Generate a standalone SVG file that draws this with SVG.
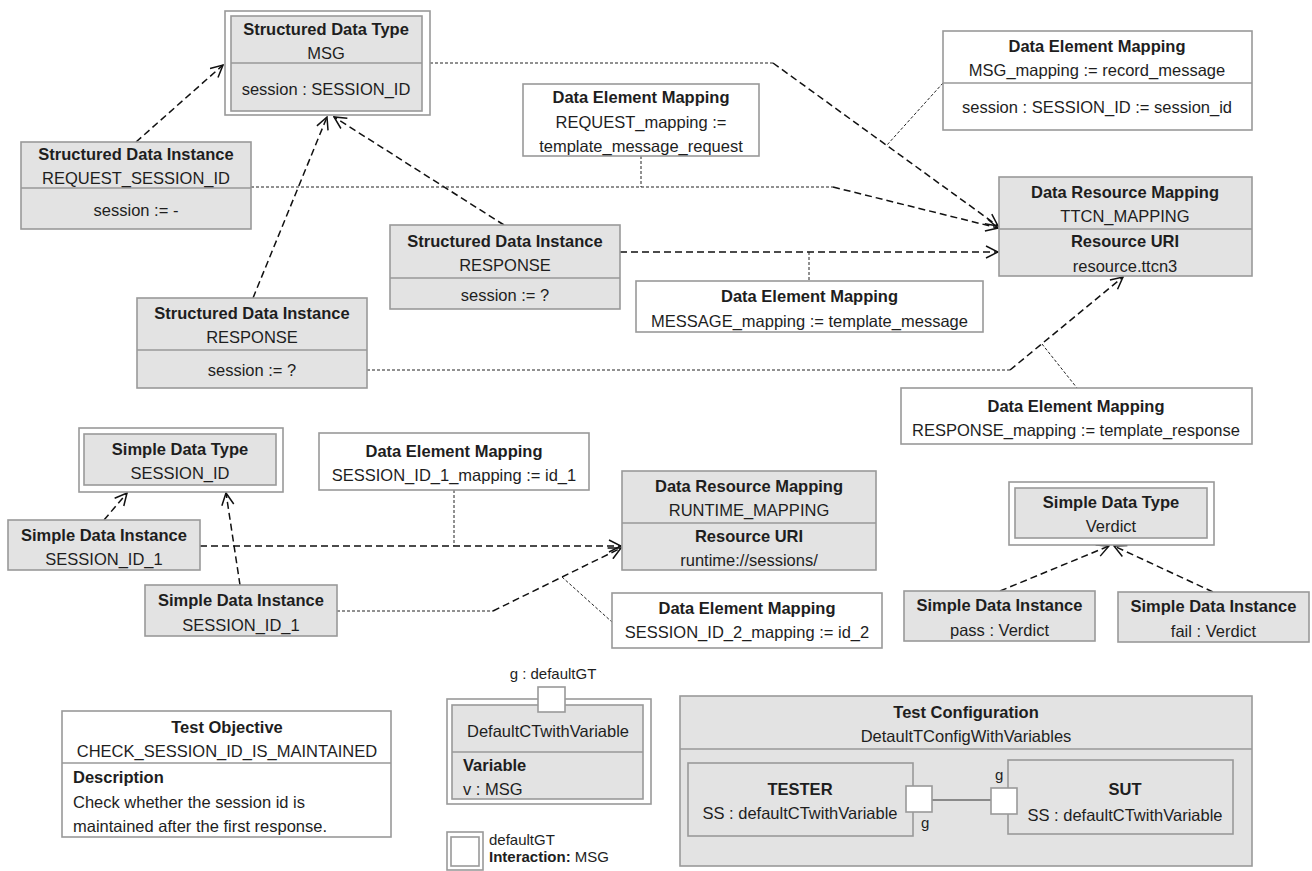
<svg xmlns="http://www.w3.org/2000/svg" width="1312" height="871" viewBox="0 0 1312 871">
<style>
.box{fill:#e3e3e3;stroke:#999;stroke-width:1.6}
.wbox{fill:#fff;stroke:#999;stroke-width:1.6}
.dv{stroke:#999;stroke-width:1.6}
text{font-family:"Liberation Sans",Arial,Helvetica,sans-serif;font-size:16.5px;fill:#1e1e1e}
.b{font-weight:bold}
.c{text-anchor:middle}
.sm{font-size:15px}
.dash{fill:none;stroke:#111;stroke-width:1.5;stroke-dasharray:7 4}
.dot{fill:none;stroke:#222;stroke-width:1;stroke-dasharray:3 2}
.solid{fill:none;stroke:#333;stroke-width:1.2}
</style>
<defs>
<marker id="arr" viewBox="0 0 14 14" refX="13" refY="7" markerWidth="14" markerHeight="14" markerUnits="userSpaceOnUse" orient="auto">
<path d="M1,1 L13,7 L1,13" fill="none" stroke="#111" stroke-width="1.5"/>
</marker>
</defs>

<g id="connectors">
<path class="dash" d="M136,142 L223,65" marker-end="url(#arr)"/>
<path class="dash" d="M253,298 L327,117" marker-end="url(#arr)"/>
<path class="dash" d="M504,225 L334,117" marker-end="url(#arr)"/>
<path class="dot" d="M430,63 L773,63"/>
<path class="dash" d="M773,63 L998,226" marker-end="url(#arr)"/>
<path class="dot" d="M251,187 L833,187"/>
<path class="dash" d="M833,187 L998,228" marker-end="url(#arr)"/>
<path class="dot" d="M641,156 L641,187"/>
<path class="dot" d="M943,83 L887,145"/>
<path class="dash" d="M620,252 L998,252" marker-end="url(#arr)"/>
<path class="dot" d="M809,252 L809,281"/>
<path class="dot" d="M367,370 L1010,370"/>
<path class="dash" d="M1010,370 L1123,277" marker-end="url(#arr)"/>
<path class="dot" d="M1042,344 L1077,388"/>
<path class="dash" d="M104,520 L127,493" marker-end="url(#arr)"/>
<path class="dash" d="M240,585 L226,493" marker-end="url(#arr)"/>
<path class="dash" d="M200,546 L621,546" marker-end="url(#arr)"/>
<path class="dot" d="M454,490 L454,546"/>
<path class="dot" d="M337,611 L493,611"/>
<path class="dash" d="M493,611 L621,548" marker-end="url(#arr)"/>
<path class="dot" d="M562,577 L612,622"/>
<path class="dash" d="M1000,591 L1109,546" marker-end="url(#arr)"/>
<path class="dash" d="M1213,592 L1114,546" marker-end="url(#arr)"/>
</g>

<g id="sdt-msg">
<rect class="wbox" x="225" y="11" width="205" height="104"/>
<rect class="box" x="231" y="16" width="191" height="95"/>
<line class="dv" x1="231" y1="63" x2="422" y2="63"/>
<text class="b c" x="326" y="35">Structured Data Type</text>
<text class="c" x="326" y="59">MSG</text>
<text class="c" x="326" y="95">session : SESSION_ID</text>
</g>

<g id="sdi-request">
<rect class="box" x="21" y="142" width="230" height="87"/>
<line class="dv" x1="21" y1="188" x2="251" y2="188"/>
<text class="b c" x="136" y="160">Structured Data Instance</text>
<text class="c" x="136" y="184">REQUEST_SESSION_ID</text>
<text class="c" x="136" y="216">session := -</text>
</g>

<g id="sdi-response-mid">
<rect class="box" x="390" y="225" width="230" height="84"/>
<line class="dv" x1="390" y1="278" x2="620" y2="278"/>
<text class="b c" x="505" y="247">Structured Data Instance</text>
<text class="c" x="505" y="271">RESPONSE</text>
<text class="c" x="505" y="301">session := ?</text>
</g>

<g id="sdi-response-low">
<rect class="box" x="137" y="298" width="230" height="90"/>
<line class="dv" x1="137" y1="350" x2="367" y2="350"/>
<text class="b c" x="252" y="319">Structured Data Instance</text>
<text class="c" x="252" y="343">RESPONSE</text>
<text class="c" x="252" y="376">session := ?</text>
</g>

<g id="dem-request">
<rect class="wbox" x="523" y="84" width="236" height="72"/>
<text class="b c" x="641" y="103">Data Element Mapping</text>
<text class="c" x="641" y="128">REQUEST_mapping :=</text>
<text class="c" x="641" y="152">template_message_request</text>
</g>

<g id="dem-msg">
<rect class="wbox" x="943" y="31" width="309" height="99"/>
<line class="dv" x1="943" y1="83" x2="1252" y2="83"/>
<text class="b c" x="1097" y="52">Data Element Mapping</text>
<text class="c" x="1097" y="76">MSG_mapping := record_message</text>
<text class="c" x="1097" y="113">session : SESSION_ID := session_id</text>
</g>

<g id="drm-ttcn">
<rect class="box" x="999" y="177" width="253" height="99"/>
<line class="dv" x1="999" y1="229" x2="1252" y2="229"/>
<text class="b c" x="1125" y="198">Data Resource Mapping</text>
<text class="c" x="1125" y="222">TTCN_MAPPING</text>
<text class="b c" x="1125" y="247">Resource URI</text>
<text class="c" x="1125" y="272">resource.ttcn3</text>
</g>

<g id="dem-message">
<rect class="wbox" x="636" y="281" width="347" height="51"/>
<text class="b c" x="809.5" y="302">Data Element Mapping</text>
<text class="c" x="809.5" y="327">MESSAGE_mapping := template_message</text>
</g>

<g id="dem-response">
<rect class="wbox" x="901" y="388" width="351" height="56"/>
<text class="b c" x="1076" y="412">Data Element Mapping</text>
<text class="c" x="1076" y="436">RESPONSE_mapping := template_response</text>
</g>

<g id="sdt-session-id">
<rect class="wbox" x="79" y="428" width="204" height="64"/>
<rect class="box" x="84" y="434" width="192" height="51"/>
<text class="b c" x="180" y="455">Simple Data Type</text>
<text class="c" x="180" y="479">SESSION_ID</text>
</g>

<g id="sdi-session-id-1a">
<rect class="box" x="8" y="520" width="192" height="50"/>
<text class="b c" x="104" y="541">Simple Data Instance</text>
<text class="c" x="104" y="565">SESSION_ID_1</text>
</g>

<g id="sdi-session-id-1b">
<rect class="box" x="145" y="585" width="192" height="51"/>
<text class="b c" x="241" y="606">Simple Data Instance</text>
<text class="c" x="241" y="631">SESSION_ID_1</text>
</g>

<g id="dem-session-id-1">
<rect class="wbox" x="319" y="433" width="270" height="57"/>
<text class="b c" x="454" y="457">Data Element Mapping</text>
<text class="c" x="454" y="481">SESSION_ID_1_mapping := id_1</text>
</g>

<g id="drm-runtime">
<rect class="box" x="622" y="471" width="254" height="99"/>
<line class="dv" x1="622" y1="523" x2="876" y2="523"/>
<text class="b c" x="749" y="492">Data Resource Mapping</text>
<text class="c" x="749" y="516">RUNTIME_MAPPING</text>
<text class="b c" x="749" y="542">Resource URI</text>
<text class="c" x="749" y="566">runtime://sessions/</text>
</g>

<g id="dem-session-id-2">
<rect class="wbox" x="612" y="593" width="270" height="55"/>
<text class="b c" x="747" y="614">Data Element Mapping</text>
<text class="c" x="747" y="638">SESSION_ID_2_mapping := id_2</text>
</g>

<g id="sdt-verdict">
<rect class="wbox" x="1009" y="482" width="205" height="63"/>
<rect class="box" x="1015" y="488" width="192" height="50"/>
<text class="b c" x="1111" y="508">Simple Data Type</text>
<text class="c" x="1111" y="532">Verdict</text>
</g>

<g id="sdi-pass">
<rect class="box" x="904" y="591" width="191" height="50"/>
<text class="b c" x="999.5" y="611">Simple Data Instance</text>
<text class="c" x="999.5" y="636">pass : Verdict</text>
</g>

<g id="sdi-fail">
<rect class="box" x="1118" y="592" width="191" height="50"/>
<text class="b c" x="1213.5" y="612">Simple Data Instance</text>
<text class="c" x="1213.5" y="637">fail : Verdict</text>
</g>

<g id="test-objective">
<rect class="wbox" x="62" y="711" width="329" height="126"/>
<line class="dv" x1="62" y1="763" x2="391" y2="763"/>
<text class="b c" x="227" y="733">Test Objective</text>
<text class="c" x="227" y="757">CHECK_SESSION_ID_IS_MAINTAINED</text>
<text class="b" x="73" y="783">Description</text>
<text x="73" y="808">Check whether the session id is</text>
<text x="73" y="832">maintained after the first response.</text>
</g>

<g id="component-type">
<rect class="wbox" x="447" y="699" width="204" height="105"/>
<rect class="box" x="452" y="705" width="191" height="94"/>
<line class="dv" x1="452" y1="752" x2="643" y2="752"/>
<text class="c" x="548" y="737">DefaultCTwithVariable</text>
<text class="b" x="463" y="771">Variable</text>
<text x="463" y="795">v : MSG</text>
<rect class="wbox" x="538" y="687" width="27" height="25"/>
<text class="c sm" x="553" y="679">g : defaultGT</text>
</g>

<g id="gate-type">
<rect class="wbox" x="447" y="832" width="36" height="38"/>
<rect class="wbox" x="451" y="837" width="28" height="29"/>
<text class="sm" x="489" y="845">defaultGT</text>
<text class="sm" x="489" y="862"><tspan class="b">Interaction:</tspan> MSG</text>
</g>

<g id="test-configuration">
<rect class="box" x="680" y="696" width="572" height="170"/>
<line class="dv" x1="680" y1="749" x2="1252" y2="749"/>
<text class="b c" x="966" y="718">Test Configuration</text>
<text class="c" x="966" y="742">DetaultTConfigWithVariables</text>
<rect class="box" x="688" y="763" width="225" height="73"/>
<text class="b c" x="800" y="795">TESTER</text>
<text class="c" x="800" y="819">SS : defaultCTwithVariable</text>
<rect class="box" x="1008" y="760" width="225" height="74"/>
<text class="b c" x="1125" y="795">SUT</text>
<text class="c" x="1125" y="821">SS : defaultCTwithVariable</text>
<line class="solid" x1="932" y1="800" x2="991" y2="800"/>
<rect class="wbox" x="906" y="786" width="26" height="26"/>
<text class="sm" x="921" y="828">g</text>
<rect class="wbox" x="991" y="788" width="26" height="26"/>
<text class="sm" x="995" y="780">g</text>
</g>
</svg>
